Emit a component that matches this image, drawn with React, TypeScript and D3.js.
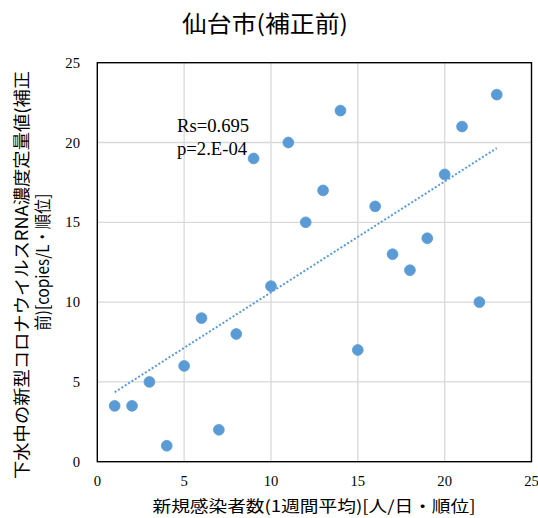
import React from "react";
import * as d3 from "d3";

const xValues = [1, 2, 3, 4, 5, 6, 7, 8, 9, 10, 11, 12, 13, 14, 15, 16, 17, 18, 19, 20, 21, 22, 23];
const yValues = [3.5, 3.5, 5, 1, 6, 9, 2, 8, 19, 11, 20, 15, 17, 22, 7, 16, 13, 12, 14, 18, 21, 10, 23];
const xTicks = [0, 5, 10, 15, 20, 25];
const yTicks = [0, 5, 10, 15, 20, 25];
const titleText = "仙台市(補正前)";
const xTitle = "新規感染者数(1週間平均)[人/日・順位]";
const yTitle1 = "下水中の新型コロナウイルスRNA濃度定量値(補正";
const yTitle2 = "前)[copies/L・順位]";
const statLines = ["Rs=0.695", "p=2.E-04"];

const W = 538;
const H = 518;
const L = 97.3, R = 531.5, T = 62.7, B = 461.7;

export default function App() {
  const x = d3.scaleLinear().domain([0, 25]).range([L, R]);
  const y = d3.scaleLinear().domain([0, 25]).range([B, T]);

  const mx = d3.mean(xValues) as number;
  const my = d3.mean(yValues) as number;
  const sxy = d3.sum(xValues.map((v, i) => (v - mx) * (yValues[i] - my)));
  const sxx = d3.sum(xValues.map((v) => (v - mx) * (v - mx)));
  const slope = sxy / sxx;
  const icpt = my - slope * mx;
  const xMin = d3.min(xValues) as number;
  const xMax = d3.max(xValues) as number;
  const trend = d3.line<number>().x((d) => x(d)).y((d) => y(icpt + slope * d))([xMin, xMax]) || "";

  const serif = "'Liberation Serif', 'Times New Roman', serif";
  const gothic = "'Noto Sans CJK JP', 'Noto Sans', sans-serif";

  return (
    <svg width={W} height={H} style={{ position: "absolute", left: 0, top: 0, background: "#fff" }}>
      <rect x={0} y={0} width={W} height={H} fill="#fff" />
      <text x={265} y={32} textAnchor="middle" fontFamily={gothic} fontSize={23} fill="#000" textLength={166} lengthAdjust="spacingAndGlyphs">
        {titleText}
      </text>
      {xTicks.filter((t) => t > 0 && t < 25).map((t) => (
        <line key={"gx" + t} x1={x(t)} x2={x(t)} y1={T} y2={B} stroke="#d9d9d9" strokeWidth={1.3} />
      ))}
      {yTicks.filter((t) => t > 0 && t < 25).map((t) => (
        <line key={"gy" + t} x1={L} x2={R} y1={y(t)} y2={y(t)} stroke="#d9d9d9" strokeWidth={1.3} />
      ))}
      <rect x={L} y={T} width={R - L} height={B - T} fill="none" stroke="#000" strokeWidth={1.4} />
      {yTicks.map((t) => (
        <text key={"ty" + t} x={80} y={y(t)} dy="0.35em" textAnchor="end" fontFamily={serif} fontSize={14.67} fill="#000">
          {t}
        </text>
      ))}
      {xTicks.map((t) => (
        <text key={"tx" + t} x={x(t)} y={486} textAnchor="middle" fontFamily={serif} fontSize={14.67} fill="#000">
          {t}
        </text>
      ))}
      <path d={trend} fill="none" stroke="#5B9BD5" strokeWidth={2} strokeDasharray="2 2" />
      {xValues.map((v, i) => (
        <circle key={"p" + i} cx={x(v)} cy={y(yValues[i])} r={5.4} fill="#5B9BD5" stroke="#5B9BD5" strokeWidth={0.8} />
      ))}
      {statLines.map((s, i) => (
        <text key={"s" + i} x={177} y={132 + i * 23} fontFamily={serif} fontSize={18.67} fill="#000">
          {s}
        </text>
      ))}
      <text x={314} y={512} textAnchor="middle" fontFamily={gothic} fontSize={16} fill="#000" textLength={323} lengthAdjust="spacingAndGlyphs">
        {xTitle}
      </text>
      <text transform="translate(20,275) rotate(-90)" textAnchor="middle" dominantBaseline="central" fontFamily={gothic} fontSize={17} fill="#000" textLength={408} lengthAdjust="spacingAndGlyphs">
        {yTitle1}
      </text>
      <text transform="translate(41,262) rotate(-90)" textAnchor="middle" dominantBaseline="central" fontFamily={gothic} fontSize={17} fill="#000" textLength={137} lengthAdjust="spacingAndGlyphs">
        {yTitle2}
      </text>
    </svg>
  );
}
